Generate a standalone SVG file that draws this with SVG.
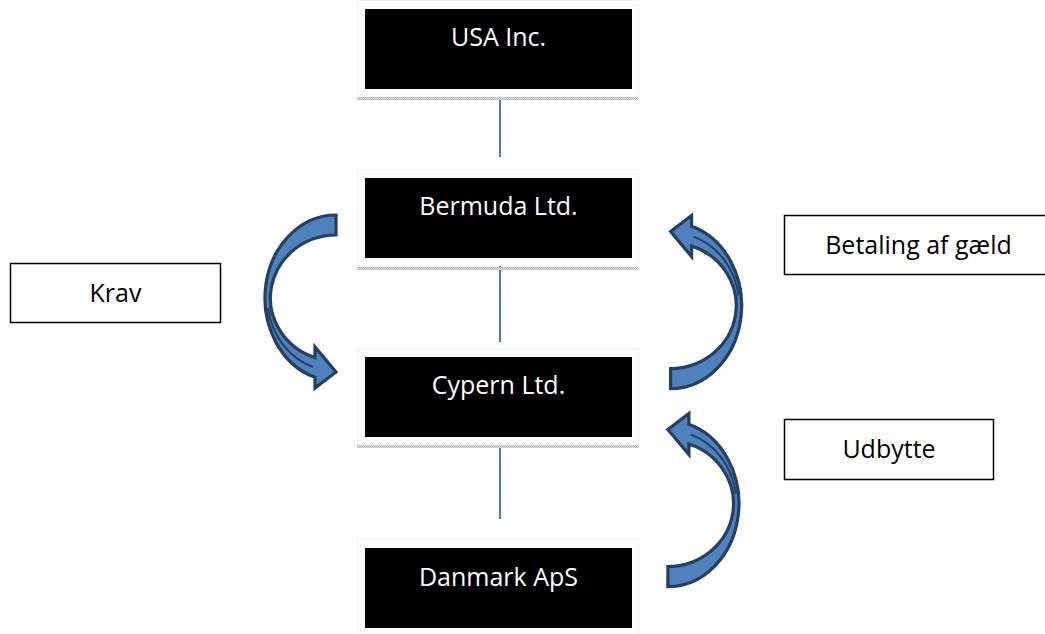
<svg xmlns="http://www.w3.org/2000/svg" xmlns:xlink="http://www.w3.org/1999/xlink" width="1045" height="634" viewBox="0 0 1045 634">
  <style>
    .entity { fill: #000000; }
    .frame { fill: none; stroke: #F3F3F3; stroke-width: 1; }
    .band { fill: url(#dots); }
    .entity-text { font-family: "Open Sans", "Noto Sans", sans-serif; font-size: 25px; fill: #FFFFFF; text-anchor: middle; }
    .note { fill: #FFFFFF; stroke: #000000; stroke-width: 1.5; }
    .note-text { font-family: "Open Sans", "Noto Sans", sans-serif; font-size: 25px; fill: #000000; text-anchor: middle; }
    .link { stroke: #4A7EBB; stroke-width: 2; fill: none; }
    .flow { fill: #4F81BD; stroke: #243F60; stroke-width: 3.2; stroke-linejoin: miter; }
    .twist { fill: none; stroke: #243F60; stroke-width: 2; }
  </style>
  <defs>
    <!-- fine grey dither used for the shadow strip under each entity -->
    <pattern id="dots" width="2" height="2" patternUnits="userSpaceOnUse">
      <rect width="2" height="2" fill="#E2E2E2"/>
      <rect width="1" height="1" fill="#B4B4B4"/>
      <rect x="1" y="1" width="1" height="1" fill="#B4B4B4"/>
    </pattern>
    <!-- curved block arrow: tail at top, bulging left, head pointing right at bottom -->
    <g id="curved-arrow">
      <path class="flow" d="M336,215 A71,83 0 0 0 315,377.3 L315,388 L336,372 L315,347 L315,357.6 A66,63 0 0 1 336,235 Z"/>
      <path class="twist" d="M268,308 A68,73 0 0 0 313,367"/>
    </g>
  </defs>

  <rect width="1045" height="634" fill="#FFFFFF"/>

  <!-- connectors -->
  <g id="connectors">
    <line class="link" x1="500" y1="97" x2="500" y2="157"/>
    <line class="link" x1="500" y1="266" x2="500" y2="342"/>
    <line class="link" x1="500" y1="446" x2="500" y2="519"/>
    <use id="arrow-krav" xlink:href="#curved-arrow"/>
    <use id="arrow-betaling" xlink:href="#curved-arrow" transform="rotate(180 503.3 301.8)"/>
    <use id="arrow-udbytte" xlink:href="#curved-arrow" transform="translate(-2.7 198) rotate(180 503.3 301.8)"/>
  </g>

  <!-- entities -->
  <g id="usa">
    <rect class="frame" x="357.5" y="0.5" width="281" height="98"/>
    <rect class="band" x="357" y="97" width="282" height="3"/>
    <rect class="entity" x="365" y="9" width="267" height="80"/>
    <text class="entity-text" x="498.5" y="46">USA Inc.</text>
  </g>
  <g id="bermuda">
    <rect class="frame" x="357.5" y="169.5" width="281" height="98"/>
    <rect class="band" x="357" y="267" width="282" height="3"/>
    <rect class="entity" x="365" y="178" width="267" height="80"/>
    <text class="entity-text" x="498.5" y="215">Bermuda Ltd.</text>
  </g>
  <g id="cypern">
    <rect class="frame" x="357.5" y="348.5" width="281" height="97"/>
    <rect class="band" x="357" y="445" width="282" height="3"/>
    <rect class="entity" x="365" y="357" width="267" height="80"/>
    <text class="entity-text" x="498.5" y="394">Cypern Ltd.</text>
  </g>
  <g id="danmark">
    <rect class="frame" x="357.5" y="539.5" width="281" height="97"/>
    <rect class="entity" x="365" y="548" width="267" height="80"/>
    <text class="entity-text" x="498.5" y="585.5">Danmark ApS</text>
  </g>

  <!-- flow labels -->
  <g id="krav">
    <rect class="note" x="10.5" y="263.5" width="210" height="59"/>
    <text class="note-text" x="115.5" y="301.5">Krav</text>
  </g>
  <g id="betaling">
    <rect class="note" x="784.5" y="215.5" width="268" height="59"/>
    <text class="note-text" x="918.5" y="254">Betaling af gæld</text>
  </g>
  <g id="udbytte">
    <rect class="note" x="784.5" y="419.5" width="209" height="60"/>
    <text class="note-text" x="889" y="457.5">Udbytte</text>
  </g>
</svg>
